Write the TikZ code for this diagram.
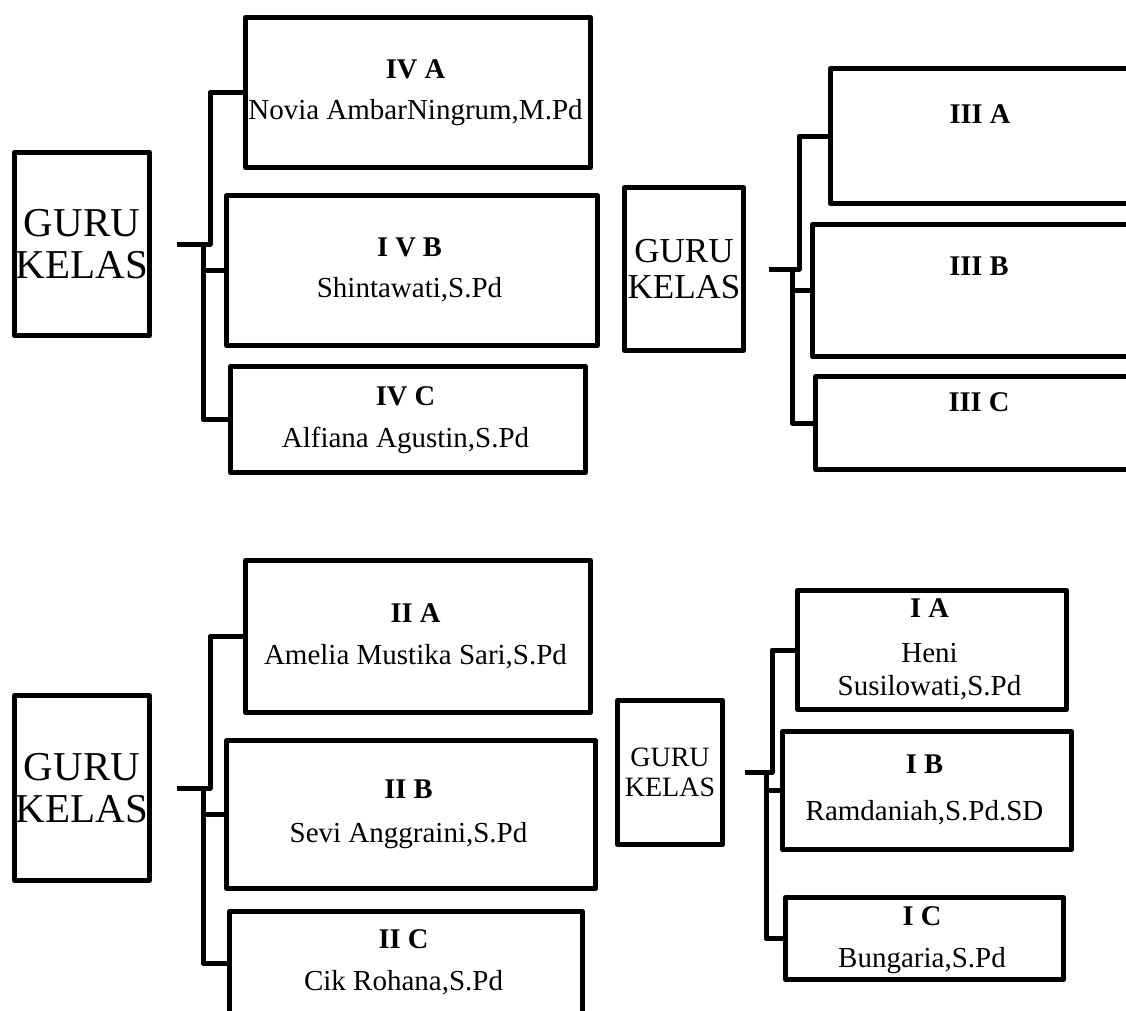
\documentclass[tikz,border=0pt]{standalone}
\usepackage{fontspec}
\setmainfont{Liberation Serif}
\tikzset{
  wire/.style     = {line width=5pt, line join=round},
  kbox/.style     = {draw, rectangle, line width=5pt, line join=round,
                     inner sep=0pt, anchor=north west},
  guru/.style     = {kbox, align=center},
  clsname/.style  = {font=\fontsize{28.5}{30}\selectfont\bfseries, anchor=base},
  tname/.style    = {font=\fontsize{29}{33}\selectfont, anchor=base},
}

\begin{document}
\begin{tikzpicture}[x=1pt,y=-1pt]
  \useasboundingbox (0,0) rectangle (1126,1010);

  % ---------------- kelas IV -------------------------------------------
  \node[guru, minimum width=135pt, minimum height=183pt,
        font=\fontsize{41}{42}\selectfont] (gk1) at (12,150) {GURU\\KELAS};
  \node[kbox, minimum width=345pt, minimum height=150pt] (iva) at (243,15) {};
  \node[kbox, minimum width=371pt, minimum height=150pt] (ivb) at (224,193) {};
  \node[kbox, minimum width=355pt, minimum height=106pt] (ivc) at (228,364) {};
  \node[clsname] (iva-c) at (415.5,78)  {IV A};
  \node[tname]   (iva-n) at (415.5,119) {Novia AmbarNingrum,M.Pd};
  \node[clsname] (ivb-c) at (409.5,256) {I V B};
  \node[tname]   (ivb-n) at (409.5,297) {Shintawati,S.Pd};
  \node[clsname] (ivc-c) at (405.5,405) {IV C};
  \node[tname]   (ivc-n) at (405.5,447) {Alfiana Agustin,S.Pd};
  \coordinate (s1) at ([xshift=25pt]gk1.east);
  \coordinate (j1) at ([xshift=58pt]gk1.east);
  \coordinate (k1) at ([xshift=51pt]gk1.east);
  \draw[wire] (s1) -- (j1) |- (iva.west);
  \draw[wire] (k1) |- (ivb.west);
  \draw[wire] (k1) |- (ivc.west);

  % ---------------- kelas III ------------------------------------------
  \node[guru, minimum width=119pt, minimum height=163pt,
        font=\fontsize{35}{36}\selectfont] (gk2) at (622,185) {GURU\\KELAS};
  \node[kbox, minimum width=305pt, minimum height=135pt] (iiia) at (828,66) {};
  \node[kbox, minimum width=336pt, minimum height=132pt] (iiib) at (810,222) {};
  \node[kbox, minimum width=314.5pt, minimum height=93pt] (iiic) at (813,374) {};
  \node[clsname] (iiia-c) at (980,123) {III A};
  \node[clsname] (iiib-c) at (979,275) {III B};
  \node[clsname] (iiic-c) at (979,411) {III C};
  \coordinate (s2) at ([xshift=23pt]gk2.east);
  \coordinate (j2) at ([xshift=53pt]gk2.east);
  \coordinate (k2) at ([xshift=46pt]gk2.east);
  \draw[wire] (s2) -- (j2) |- (iiia.west);
  \draw[wire] (k2) |- (iiib.west);
  \draw[wire] (k2) |- (iiic.west);

  % ---------------- kelas II -------------------------------------------
  \node[guru, minimum width=135pt, minimum height=185pt,
        font=\fontsize{41}{42}\selectfont] (gk3) at (12,693) {GURU\\KELAS};
  \node[kbox, minimum width=345pt, minimum height=152pt] (iia) at (243,558) {};
  \node[kbox, minimum width=369pt, minimum height=148pt] (iib) at (224,738) {};
  \node[kbox, minimum width=353pt, minimum height=103pt] (iic) at (227,909) {};
  \node[clsname] (iia-c) at (415.5,622) {II A};
  \node[tname]   (iia-n) at (415.5,664) {Amelia Mustika Sari,S.Pd};
  \node[clsname] (iib-c) at (408.5,798) {II B};
  \node[tname]   (iib-n) at (408.5,842) {Sevi Anggraini,S.Pd};
  \node[clsname] (iic-c) at (403.5,948) {II C};
  \node[tname]   (iic-n) at (403.5,990) {Cik Rohana,S.Pd};
  \coordinate (s3) at ([xshift=25pt]gk3.east);
  \coordinate (j3) at ([xshift=58pt]gk3.east);
  \coordinate (k3) at ([xshift=51pt]gk3.east);
  \draw[wire] (s3) -- (j3) |- (iia.west);
  \draw[wire] (k3) |- (iib.west);
  \draw[wire] (k3) |- (iic.west);

  % ---------------- kelas I --------------------------------------------
  \node[guru, minimum width=105pt, minimum height=144pt,
        font=\fontsize{28}{30}\selectfont] (gk4) at (615,698) {GURU\\KELAS};
  \node[kbox, minimum width=269pt, minimum height=119pt] (ia) at (795,588) {};
  \node[kbox, minimum width=289pt, minimum height=118pt] (ib) at (780,729) {};
  \node[kbox, minimum width=278pt, minimum height=82pt]  (ic) at (783,895) {};
  \node[clsname] (ia-c)  at (929.5,617) {I A};
  \node[tname]   (ia-n1) at (929.5,662) {Heni};
  \node[tname]   (ia-n2) at (929.5,695) {Susilowati,S.Pd};
  \node[clsname] (ib-c)  at (924.5,773) {I B};
  \node[tname]   (ib-n)  at (924.5,820) {Ramdaniah,S.Pd.SD};
  \node[clsname] (ic-c)  at (922,925)   {I C};
  \node[tname]   (ic-n)  at (922,967)   {Bungaria,S.Pd};
  \coordinate (s4) at ([xshift=20pt]gk4.east);
  \coordinate (j4) at ([xshift=47pt]gk4.east);
  \coordinate (k4) at ([xshift=41pt]gk4.east);
  \draw[wire] (s4) -- (j4) |- (ia.west);
  \draw[wire] (k4) |- (ib.west);
  \draw[wire] (k4) |- (ic.west);
\end{tikzpicture}
\end{document}
